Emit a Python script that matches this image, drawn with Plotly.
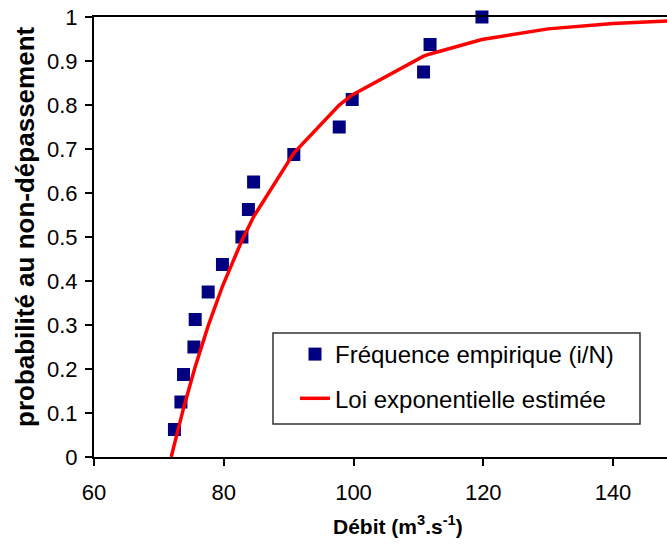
import plotly.graph_objects as go

# Empirical frequencies (i/N, N=16)
debit_obs = [72.4, 73.4, 73.8, 75.4, 75.6, 77.6, 79.8, 82.8, 83.8, 84.6,
             90.8, 97.8, 99.8, 110.8, 111.8, 119.8]
freq_obs = [0.0625, 0.125, 0.1875, 0.25, 0.3125, 0.375, 0.4375, 0.5, 0.5625,
            0.625, 0.6875, 0.75, 0.8125, 0.875, 0.9375, 1.0]

# Estimated exponential law
debit_loi = [71.9, 72.4, 73.4, 73.8, 75.4, 75.6, 77.6, 79.8, 82.8, 83.8, 84.6,
             90.8, 97.8, 99.8, 110.8, 111.8, 119.8, 130, 140, 150]
prob_loi = [0.0, 0.031, 0.089, 0.111, 0.195, 0.205, 0.298, 0.388, 0.492, 0.522,
            0.546, 0.691, 0.800, 0.823, 0.911, 0.916, 0.949, 0.973, 0.985, 0.992]

x_ticks = [60, 80, 100, 120, 140]
y_ticks = [0, 0.1, 0.2, 0.3, 0.4, 0.5, 0.6, 0.7, 0.8, 0.9, 1]
y_ticklabels = ["0", "0.1", "0.2", "0.3", "0.4", "0.5", "0.6", "0.7", "0.8", "0.9", "1"]

FONT = "Liberation Sans, Arial, sans-serif"
W, H = 667, 544
L, R, T, B = 94, 0, 17, 87
PW = W - L - R
PH = H - T - B


def px_x(p):
    return (p - L) / PW


def px_y(p):
    return (H - B - p) / PH


fig = go.Figure()
fig.add_trace(go.Scatter(
    x=debit_obs, y=freq_obs, mode="markers", name="Fréquence empirique (i/N)",
    marker=dict(symbol="square", size=13, color="#000080", line=dict(width=0)),
    legendgroup="a", cliponaxis=False,
))
fig.add_trace(go.Scatter(
    x=debit_loi, y=prob_loi, mode="lines", name="Loi exponentielle estimée",
    line=dict(color="#FF0000", width=3.5),
    legendgroup="b",
))

# legend frame
fig.add_shape(type="rect", xref="paper", yref="paper",
              x0=px_x(273), x1=px_x(640), y0=px_y(424), y1=px_y(333),
              line=dict(color="#333333", width=1.5), fillcolor="white",
              layer="above")

fig.add_annotation(text="<b>Débit (m<sup>3</sup>.s<sup>-1</sup>)</b>",
                   xref="paper", yref="paper", x=px_x(398), y=px_y(525),
                   xanchor="center", yanchor="middle", showarrow=False,
                   font=dict(size=21, family=FONT, color="black"))
fig.add_annotation(text="<b>probabilité au non-dépassement</b>",
                   xref="paper", yref="paper", x=px_x(25), y=px_y(227),
                   xanchor="center", yanchor="middle", showarrow=False,
                   textangle=-90,
                   font=dict(size=26, family=FONT, color="black"))

fig.update_layout(
    width=W, height=H,
    margin=dict(l=L, r=R, t=T, b=B),
    paper_bgcolor="white", plot_bgcolor="white",
    font=dict(family=FONT, color="black"),
    showlegend=True,
    legend=dict(
        x=px_x(295), y=px_y(332), xanchor="left", yanchor="top",
        bgcolor="rgba(0,0,0,0)", borderwidth=0,
        font=dict(size=24, family=FONT, color="black"),
        tracegroupgap=10, itemwidth=30,
    ),
    xaxis=dict(
        range=[60, 60 + PW / 6.4875], tickvals=x_ticks,
        ticks="outside", ticklen=7, tickwidth=1.5, tickcolor="black",
        showline=True, linecolor="black", linewidth=2, mirror=True,
        showgrid=False, zeroline=False,
        tickfont=dict(size=22, family=FONT),
        ticklabelstandoff=8,
    ),
    yaxis=dict(
        range=[0, 1], tickvals=y_ticks, ticktext=y_ticklabels,
        ticks="outside", ticklen=7, tickwidth=1.5, tickcolor="black",
        showline=True, linecolor="black", linewidth=2,
        showgrid=False, zeroline=False,
        tickfont=dict(size=22, family=FONT),
        ticklabelstandoff=3,
    ),
)

fig.write_html("out.html")
